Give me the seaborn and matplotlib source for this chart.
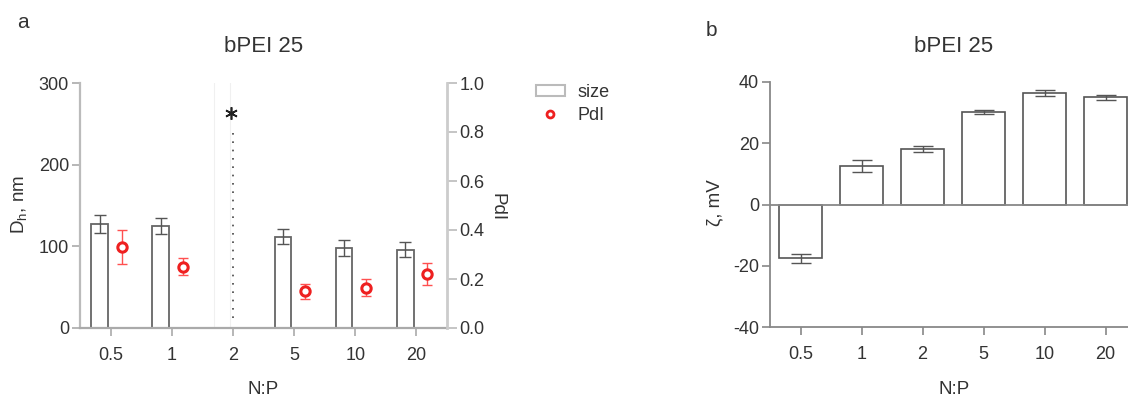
import numpy as np
import pandas as pd
import matplotlib
matplotlib.use("Agg")
import matplotlib.pyplot as plt
import seaborn as sns
from matplotlib.patches import Patch
from matplotlib.lines import Line2D

sns.set_theme(style="white")
plt.rcParams['font.family'] = ['Liberation Sans', 'DejaVu Sans']
plt.rcParams['axes.unicode_minus'] = False
plt.rcParams['mathtext.fontset'] = 'custom'
plt.rcParams['mathtext.rm'] = 'Liberation Sans'

# ---------------- data ----------------
np_ratio = ["0.5", "1", "2", "5", "10", "20"]
# panel a: hydrodynamic size (nm) and PdI ; N:P 2 is off-scale (aggregates)
size_mean = [127, 125, 1000, 112, 98, 96]
size_sd = [11, 10, np.nan, 9, 10, 9]
pdi_mean = [0.33, 0.25, np.nan, 0.15, 0.165, 0.22]
pdi_sd = [0.07, 0.035, np.nan, 0.03, 0.035, 0.045]
offscale_idx = 2
offscale_star_y = 263
offscale_line = (12, 240)
# panel b: zeta potential (mV)
zeta_mean = [-17.5, 12.5, 18.2, 30.2, 36.5, 35.0]
zeta_sd = [1.5, 2.0, 1.0, 0.5, 1.0, 0.8]

W, H = 1128, 398
fig = plt.figure(figsize=(W / 100, H / 100), dpi=100)

def fx(px):
    return px / W

def fy(py):
    return 1 - py / H

txt = '#333333'
tick_fs = 13

# ---------------- panel a ----------------
axa = fig.add_axes([fx(80), fy(328), fx(447 - 80), fy(83) - fy(328)])
dfa = pd.DataFrame({"np": np_ratio, "size": size_mean})
sns.barplot(data=dfa, x="np", y="size", order=np_ratio, ax=axa, color="white",
            edgecolor="#666666", linewidth=1.3, width=0.27, errorbar=None,
            saturation=1)
off = 0.18
for i, p in enumerate(axa.patches):
    p.set_x(p.get_x() - off)
    if i == offscale_idx:
        p.set_edgecolor('#f0f0f0')
        p.set_linewidth(0.8)
xs = np.arange(len(np_ratio))
axa.errorbar(xs - off, size_mean, yerr=size_sd, fmt='none', ecolor='#555555',
             elinewidth=1.0, capsize=4.5, capthick=1.0, zorder=5)
axa.set_ylim(0, 300)
axa.set_xlim(-0.5, 5.5)
axa.set_yticks([0, 100, 200, 300])
axa.set_xlabel("")
axa.set_ylabel("")
# off-scale marker for N:P 2
axa.vlines(offscale_idx, offscale_line[0], offscale_line[1], colors='#444444',
           linestyles=(0, (1, 4)), linewidth=1.2)
axa.plot([offscale_idx - 0.03], [offscale_star_y], marker=(6, 2, 0), ms=9,
         color='#222222', mew=1.2, linestyle='none')

ax2 = axa.twinx()
ax2.set_position(axa.get_position())
ax2.errorbar(xs + off, pdi_mean, yerr=pdi_sd, fmt='none', ecolor='#ff5050',
             elinewidth=1.0, capsize=3.5, capthick=1.0, zorder=4)
sns.scatterplot(x=xs + off, y=pdi_mean, ax=ax2, marker='o', s=45,
                facecolor='white', edgecolor='#ee2020', linewidth=2.2, zorder=6)
ax2.set_ylim(0, 1.0)
ax2.set_yticks([0, 0.2, 0.4, 0.6, 0.8, 1.0])
ax2.set_yticklabels(["0.0", "0.2", "0.4", "0.6", "0.8", "1.0"])
ax2.set_xlim(-0.5, 5.5)

for ax in (axa, ax2):
    ax.spines['top'].set_visible(False)
axa.spines['right'].set_visible(False)
axa.spines['left'].set_color('#bbbbbb')
axa.spines['left'].set_linewidth(1.6)
axa.spines['bottom'].set_color('#aaaaaa')
axa.spines['bottom'].set_linewidth(1.6)
ax2.spines['left'].set_visible(False)
ax2.spines['bottom'].set_visible(False)
ax2.spines['right'].set_color('#cccccc')
ax2.spines['right'].set_linewidth(2.0)
axa.tick_params(axis='both', direction='out', length=6, width=1.2,
                colors='#aaaaaa', labelcolor=txt, labelsize=tick_fs, pad=2,
                left=True, bottom=True)
axa.tick_params(axis='x', pad=8)
ax2.tick_params(axis='y', direction='out', length=7, width=1.2, colors='#bbbbbb',
                labelcolor=txt, labelsize=tick_fs, pad=2, right=True)
axa.grid(False)
ax2.grid(False)

fig.text(fx(20), fy(205), r"D$_\mathregular{h}$, nm", rotation=90, ha='center',
         va='center', fontsize=13.5, color=txt)
fig.text(fx(497), fy(207), "PdI", rotation=270, ha='center', va='center',
         fontsize=13.5, color=txt)
fig.text(fx(263.5), fy(47), "bPEI 25", ha='center', va='center', fontsize=16,
         color=txt)
fig.text(fx(263.5), fy(390), "N:P", ha='center', va='center', fontsize=13.5,
         color=txt)
fig.text(fx(22.5), fy(23), "a", ha='center', va='center', fontsize=15, color=txt)

handles = [Patch(facecolor='white', edgecolor='#bbbbbb', linewidth=1.5),
           Line2D([], [], marker='o', linestyle='none', ms=5, mfc='white',
                  mec='#ee2020', mew=2)]
fig.legend(handles, ["size", "PdI"], loc='upper left',
           bbox_to_anchor=(fx(536), fy(84)), frameon=False, fontsize=13,
           handlelength=1.6, handleheight=0.6, handletextpad=0.7,
           labelspacing=0.35, borderpad=0, borderaxespad=0, labelcolor=txt)

# ---------------- panel b ----------------
axb = fig.add_axes([fx(770), fy(327), fx(6 * 61), fy(82) - fy(327)])
dfb = pd.DataFrame({"np": np_ratio, "zeta": zeta_mean})
sns.barplot(data=dfb, x="np", y="zeta", order=np_ratio, ax=axb, color="white",
            edgecolor="#555555", linewidth=1.2, width=0.7, errorbar=None,
            saturation=1)
axb.errorbar(xs, zeta_mean, yerr=zeta_sd, fmt='none', ecolor='#555555',
             elinewidth=1.0, capsize=7, capthick=1.0, zorder=5)
axb.axhline(0, color='#888888', linewidth=1.3, zorder=1)
axb.set_ylim(-40, 40)
axb.set_xlim(-0.5, 5.5)
axb.set_yticks([-40, -20, 0, 20, 40])
axb.set_xlabel("")
axb.set_ylabel("")
for s in ['top', 'right']:
    axb.spines[s].set_visible(False)
for s in ['left', 'bottom']:
    axb.spines[s].set_color('#888888')
    axb.spines[s].set_linewidth(1.3)
axb.tick_params(axis='both', direction='out', length=6, width=1.2,
                colors='#888888', labelcolor=txt, labelsize=tick_fs, pad=2,
                left=True, bottom=True)
axb.tick_params(axis='x', pad=8)
axb.grid(False)

fig.text(fx(715), fy(203), "ζ, mV", rotation=90, ha='center', va='center',
         fontsize=13.5, color=txt)
fig.text(fx(954), fy(47), "bPEI 25", ha='center', va='center', fontsize=16,
         color=txt)
fig.text(fx(954), fy(390), "N:P", ha='center', va='center', fontsize=13.5,
         color=txt)
fig.text(fx(711), fy(30), "b", ha='center', va='center', fontsize=15, color=txt)

fig.savefig("out.png", dpi=100)
